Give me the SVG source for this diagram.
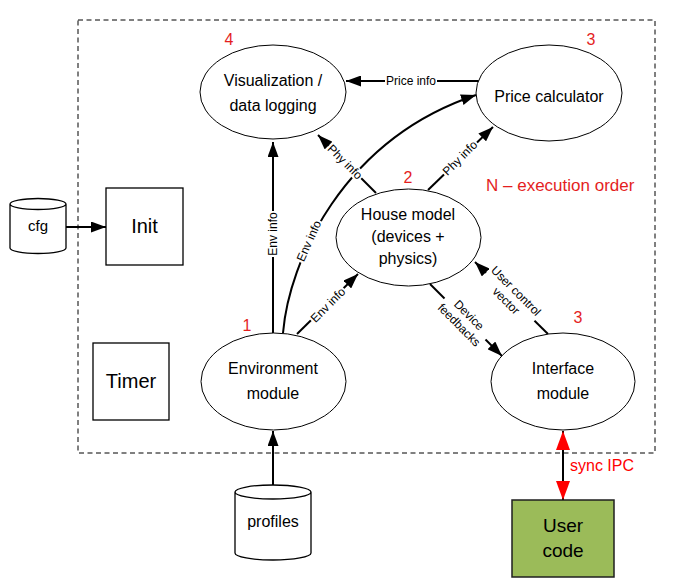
<svg xmlns="http://www.w3.org/2000/svg" width="673" height="586" viewBox="0 0 673 586">
<style>
text{font-family:"Liberation Sans",Arial,sans-serif;text-anchor:middle;fill:#000}
.nd ellipse{fill:#fff;stroke:#000;stroke-width:1}
.bx{fill:#fff;stroke:#000;stroke-width:1.3}
.t16{font-size:16px}
.t20{font-size:20px}
.num{font-size:16px;fill:#e41e1e}
.conn line,.conn path{stroke:#000;stroke-width:2;fill:none}
.cl{font-size:12px}
.bg{fill:#fff;stroke:none}
.ipc{stroke:#ff0000;stroke-width:3;fill:none}
</style>
<defs>
<marker id="ah" markerUnits="userSpaceOnUse" viewBox="0 0 15 11" markerWidth="15" markerHeight="11" refX="15" refY="5.5" orient="auto"><path d="M0,0L15,5.5L0,11z" fill="#000"/></marker>
<marker id="rh" markerUnits="userSpaceOnUse" viewBox="0 0 19 14" markerWidth="19" markerHeight="14" refX="19" refY="7" orient="auto-start-reverse"><path d="M0,0L19,7L0,14z" fill="#ff0000"/></marker>
</defs>
<rect x="78" y="20" width="577" height="433" fill="none" stroke="#000" stroke-width="1" stroke-dasharray="5 3.5"/>

<g class="conn">
<line x1="273" y1="333" x2="273" y2="142" marker-end="url(#ah)"/>
<path d="M283,333 C289,262 342,140 476,95" marker-end="url(#ah)"/>
<line x1="297" y1="334" x2="358" y2="274" marker-end="url(#ah)"/>
<line x1="376" y1="193" x2="318" y2="135" marker-end="url(#ah)"/>
<line x1="428" y1="190" x2="493" y2="127" marker-end="url(#ah)"/>
<line x1="479" y1="81" x2="346" y2="81" marker-end="url(#ah)"/>
<line x1="430" y1="284" x2="502" y2="356" marker-end="url(#ah)"/>
<line x1="548" y1="334" x2="475" y2="262" marker-end="url(#ah)"/>
<line x1="66" y1="227" x2="106" y2="227" marker-end="url(#ah)"/>
<line x1="273" y1="485" x2="273" y2="431" marker-end="url(#ah)"/>
<line class="ipc" x1="563" y1="431" x2="563" y2="500" marker-start="url(#rh)" marker-end="url(#rh)"/>
<g transform="translate(273,234) rotate(-90)"><rect class="bg" x="-23" y="-6" width="46" height="12"/><text class="cl" y="4">Env info</text></g>
<g transform="translate(309,241) rotate(-66)"><rect class="bg" x="-23" y="-6" width="46" height="12"/><text class="cl" y="4">Env info</text></g>
<g transform="translate(328,305) rotate(-45)"><rect class="bg" x="-23" y="-6" width="46" height="12"/><text class="cl" y="4">Env info</text></g>
<g transform="translate(345,162) rotate(45)"><rect class="bg" x="-23" y="-6" width="46" height="12"/><text class="cl" y="4">Phy info</text></g>
<g transform="translate(460,158) rotate(-45)"><rect class="bg" x="-23" y="-6" width="46" height="12"/><text class="cl" y="4">Phy info</text></g>
<g transform="translate(411,81)"><rect class="bg" x="-26" y="-6" width="52" height="12"/><text class="cl" y="4">Price info</text></g>
<g transform="translate(464,320) rotate(45)"><rect class="bg" x="-29" y="-14" width="58" height="28"/><text class="cl"><tspan x="0" y="-3">Device</tspan><tspan x="0" y="11">feedbacks</tspan></text></g>
<g transform="translate(511,296) rotate(45)"><rect class="bg" x="-34" y="-14" width="68" height="28"/><text class="cl"><tspan x="0" y="-3">User control</tspan><tspan x="0" y="11">vector</tspan></text></g>
<text class="t16" x="570" y="471" style="text-anchor:start;fill:#ff0000">sync IPC</text>
</g>

<g id="vis" class="nd"><ellipse cx="273" cy="92" rx="73" ry="47"/><text class="t16" x="273" y="86">Visualization /</text><text class="t16" x="273" y="111">data logging</text></g>
<g id="price" class="nd"><ellipse cx="549" cy="93" rx="73" ry="48"/><text class="t16" x="549" y="102">Price calculator</text></g>
<g id="house" class="nd"><ellipse cx="408.5" cy="237.5" rx="72.5" ry="48.5"/><text class="t16" x="408" y="220">House model</text><text class="t16" x="408" y="242">(devices +</text><text class="t16" x="408" y="264">physics)</text></g>
<g id="env" class="nd"><ellipse cx="273.5" cy="381.5" rx="72.5" ry="48.5"/><text class="t16" x="273" y="374">Environment</text><text class="t16" x="273" y="399">module</text></g>
<g id="iface" class="nd"><ellipse cx="563" cy="381.5" rx="72" ry="48.5"/><text class="t16" x="563" y="374">Interface</text><text class="t16" x="563" y="399">module</text></g>
<g id="init"><rect class="bx" x="106" y="188" width="77" height="77"/><text class="t20" x="144.5" y="233">Init</text></g>
<g id="timer"><rect class="bx" x="93" y="343" width="76" height="77"/><text class="t20" x="131" y="388">Timer</text></g>
<g id="cfg"><path class="bx" d="M10,204 V248 A28,5.5 0 0,0 66,248 V204 A28,5.5 0 0,0 10,204 A28,5.5 0 0,0 66,204"/><text x="38" y="231" style="font-size:15px">cfg</text></g>
<g id="profiles"><path class="bx" d="M235,492 V553 A38,7 0 0,0 311,553 V492 A38,7 0 0,0 235,492 A38,7 0 0,0 311,492"/><text class="t16" x="273" y="527">profiles</text></g>
<g id="usercode"><rect x="512" y="500" width="102" height="77" fill="#9bbb59" stroke="#1f1f1f" stroke-width="1.5"/><text x="563" y="532" style="font-size:19px">User</text><text x="563" y="557" style="font-size:19px">code</text></g>

<g id="labels">
<text class="num" x="229" y="45">4</text>
<text class="num" x="591" y="45">3</text>
<text class="num" x="408" y="183">2</text>
<text class="num" x="247" y="331">1</text>
<text class="num" x="578" y="323">3</text>
<text x="486" y="191" style="font-size:17px;text-anchor:start;fill:#e41e1e">N – execution order</text>
</g>
</svg>
